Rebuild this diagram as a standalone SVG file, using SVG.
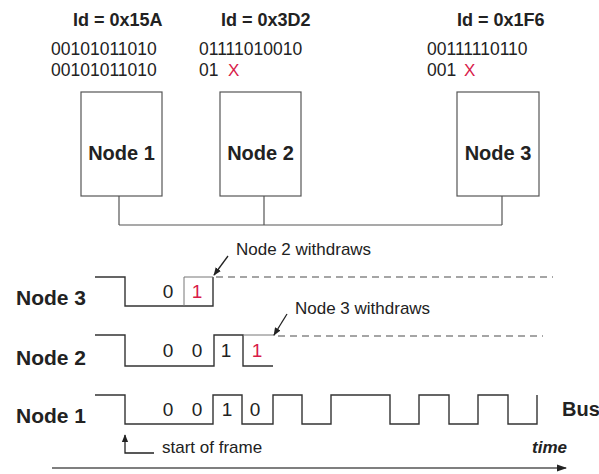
<svg xmlns="http://www.w3.org/2000/svg" width="599" height="474" viewBox="0 0 599 474">
<defs>
<style>
text{font-family:"Liberation Sans",Arial,sans-serif;fill:#222}
.b{font-weight:bold}
.id{font-size:18px;font-weight:bold}
.bin{font-size:17.5px}
.x{font-size:17px;fill:#d81b4a}
.lbl{font-size:20px;font-weight:bold}
.bit{font-size:19px;text-anchor:middle}
.red{fill:#d81b4a}
.note{font-size:17px}
.box{fill:#fff;stroke:#555;stroke-width:1.2}
.w{fill:none;stroke:#333;stroke-width:1.4}
.thin{fill:none;stroke:#777;stroke-width:1}
.dash{fill:none;stroke:#888;stroke-width:1.3;stroke-dasharray:7 5}
.ar{fill:none;stroke:#222;stroke-width:1.3}
</style>
<marker id="ah" viewBox="0 0 10 10" refX="9" refY="5" markerWidth="8" markerHeight="8" orient="auto-start-reverse" markerUnits="userSpaceOnUse">
<path d="M0,1 L10,5 L0,9 z" fill="#222"/>
</marker>
<marker id="ahw" viewBox="0 0 10 10" refX="9" refY="5" markerWidth="14" markerHeight="10" orient="auto" markerUnits="userSpaceOnUse">
<path d="M0,1.5 L10,5 L0,8.5 z" fill="#222"/>
</marker>
</defs>
<rect width="599" height="474" fill="#fff"/>

<g id="ids">
<text class="id" x="73" y="26">Id = 0x15A</text>
<text class="bin" x="51" y="55">00101011010</text>
<text class="bin" x="51" y="76">00101011010</text>
<text class="id" x="221" y="26">Id = 0x3D2</text>
<text class="bin" x="199" y="55">01111010010</text>
<text class="bin" x="199" y="76">01</text>
<text class="x" x="228" y="76">X</text>
<text class="id" x="457" y="26">Id = 0x1F6</text>
<text class="bin" x="427" y="55">00111110110</text>
<text class="bin" x="427" y="76">001</text>
<text class="x" x="464" y="76">X</text>
</g>

<g id="node1">
<rect class="box" x="81" y="92" width="81" height="104"/>
<text class="lbl" x="121.5" y="160" text-anchor="middle">Node 1</text>
</g>
<g id="node2">
<rect class="box" x="220" y="92" width="81" height="104"/>
<text class="lbl" x="260.5" y="160" text-anchor="middle">Node 2</text>
</g>
<g id="node3">
<rect class="box" x="457" y="92" width="82" height="104"/>
<text class="lbl" x="498" y="160" text-anchor="middle">Node 3</text>
</g>

<g id="connectors">
<path class="box" fill="none" d="M119,196 V225 M264,196 V225 M502,196 V225 M119,225 H502"/>
</g>

<g id="timing">
<text class="lbl" x="16" y="305" style="font-size:21px">Node 3</text>
<text class="lbl" x="16" y="365" style="font-size:21px">Node 2</text>
<text class="lbl" x="16" y="423" style="font-size:21px">Node 1</text>
<text class="lbl" x="562" y="416">Bus</text>

<path class="w" d="M95,277 H125 V306 H213 V277"/>
<path class="thin" d="M184,306 V277 H213"/>
<path class="dash" d="M216,277 H553"/>
<text class="bit" x="168" y="298">0</text>
<text class="bit red" x="197" y="298">1</text>

<path class="w" d="M95,335 H125 V366 H214 V335 H243 V366 H273"/>
<path class="thin" d="M243,335 H275"/>
<path class="dash" d="M278,336 H543"/>
<text class="bit" x="168" y="357">0</text>
<text class="bit" x="197" y="357">0</text>
<text class="bit" x="226" y="357">1</text>
<text class="bit red" x="257" y="357">1</text>

<path class="w" d="M95,395 H125 V424 H213 V395 H242 V424 H273 V395 H302 V424 H331 V395 H390 V424 H419 V395 H449 V424 H478 V395 H508 V424 H537 V395"/>
<text class="bit" x="168" y="416">0</text>
<text class="bit" x="197" y="416">0</text>
<text class="bit" x="227" y="416">1</text>
<text class="bit" x="255" y="416">0</text>

<text class="note" x="236" y="255">Node 2 withdraws</text>
<path class="ar" d="M228,256 L214,275" marker-end="url(#ah)"/>
<text class="note" x="295" y="314">Node 3 withdraws</text>
<path class="ar" d="M287,314 L274,335" marker-end="url(#ah)"/>

<path class="ar" d="M154,453 H125 V435" marker-end="url(#ah)"/>
<text class="note" x="162" y="453">start of frame</text>

<text class="note b" x="532" y="453" style="font-style:italic">time</text>
<path fill="none" stroke="#555" stroke-width="1.5" d="M52,468 H566" marker-end="url(#ahw)"/>
</g>
</svg>
